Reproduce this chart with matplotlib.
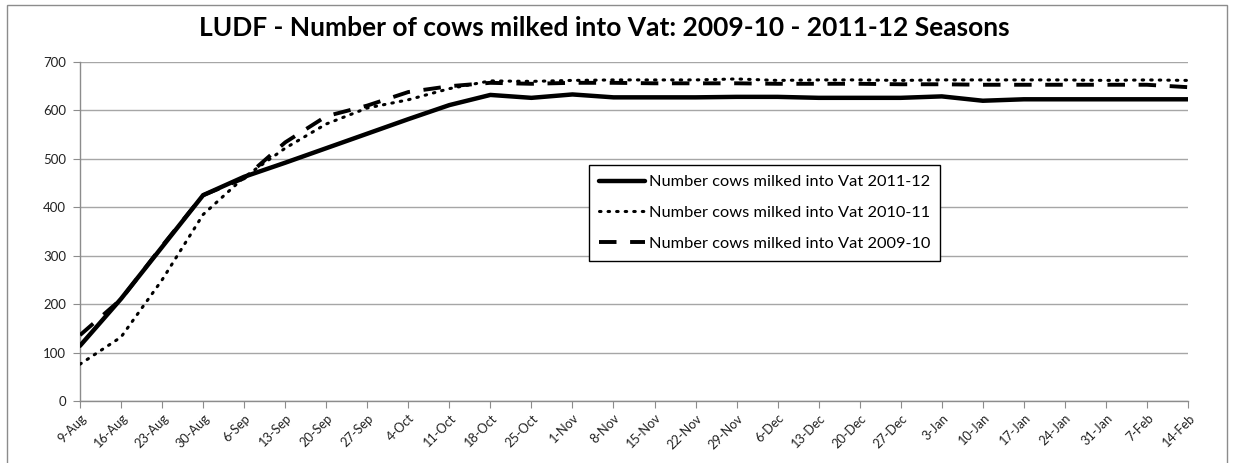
import matplotlib
matplotlib.use("Agg")
import matplotlib.pyplot as plt
from matplotlib.patches import Rectangle

plt.rcParams['font.family'] = ['Lato', 'DejaVu Sans']

weeks = ["9-Aug", "16-Aug", "23-Aug", "30-Aug", "6-Sep", "13-Sep", "20-Sep", "27-Sep",
         "4-Oct", "11-Oct", "18-Oct", "25-Oct", "1-Nov", "8-Nov", "15-Nov", "22-Nov",
         "29-Nov", "6-Dec", "13-Dec", "20-Dec", "27-Dec", "3-Jan", "10-Jan", "17-Jan",
         "24-Jan", "31-Jan", "7-Feb", "14-Feb"]

cows_2011_12 = [114, 211, 318, 425, 463, 492, 522, 552, 582, 611, 632, 626, 633, 627,
                627, 627, 628, 628, 626, 626, 626, 629, 620, 623, 623, 623, 623, 623]
cows_2010_11 = [76, 132, 250, 385, 462, 522, 572, 605, 622, 645, 661, 660, 662, 663,
                663, 663, 665, 662, 663, 663, 662, 663, 663, 663, 663, 662, 663, 662]
cows_2009_10 = [136, 210, 320, 425, 460, 534, 588, 610, 638, 650, 657, 655, 657, 657,
                656, 656, 656, 655, 655, 655, 654, 654, 653, 653, 653, 653, 653, 648]

labels = ["Number cows milked into Vat 2011-12",
          "Number cows milked into Vat 2010-11",
          "Number cows milked into Vat 2009-10"]
title = "LUDF - Number of cows milked into Vat: 2009-10 - 2011-12 Seasons"

fig = plt.figure(figsize=(12.34, 4.63), dpi=100)
ax = fig.add_axes([80 / 1234, 1 - 401 / 463, (1188 - 80) / 1234, (401 - 62) / 463])

x = list(range(len(weeks)))
l1, = ax.plot(x, cows_2011_12, color="black", lw=3.2, solid_capstyle="round",
              solid_joinstyle="round", label=labels[0], zorder=3)
l2, = ax.plot(x, cows_2010_11, color="black", lw=2.2, linestyle=(0, (0.5, 2.3)),
              dash_capstyle="round", label=labels[1], zorder=3)
l3, = ax.plot(x, cows_2009_10, color="black", lw=2.8, linestyle=(0, (4.5, 3.5)),
              label=labels[2], zorder=3)

ax.set_xlim(0, len(weeks) - 1)
ax.set_ylim(0, 700)
ax.set_yticks(range(0, 701, 100))
ax.set_xticks(x)
ax.set_xticklabels(weeks, rotation=45, ha="right", rotation_mode="anchor",
                   fontsize=9.2, color="#222222")
ax.tick_params(axis="x", length=5, color="#8c8c8c", pad=3)
ax.tick_params(axis="y", length=5, color="#8c8c8c", labelsize=9.5, labelcolor="#222222", pad=5)
ax.grid(axis="y", color="#a6a6a6", lw=1.0)
ax.set_axisbelow(True)
for s in ["top", "right"]:
    ax.spines[s].set_visible(False)
for s in ["left", "bottom"]:
    ax.spines[s].set_color("#8c8c8c")
    ax.spines[s].set_linewidth(1.0)

fig.text(0.49, 1 - 28 / 463, title, ha="center", va="center", fontsize=19,
         fontweight="bold", color="black")

leg = ax.legend(handles=[l1, l2, l3], loc="upper left",
                bbox_to_anchor=((589 - 80) / 1108, (401 - 165) / 339),
                fontsize=11.8, frameon=True, fancybox=False, edgecolor="black",
                framealpha=1, handlelength=2.8, handletextpad=0.25,
                borderpad=0.6, labelspacing=1.0, borderaxespad=0)
leg.get_frame().set_linewidth(1.0)

fig.add_artist(Rectangle((7 / 1234, -0.01), (1227 - 7) / 1234, 1 - 5 / 463 + 0.01,
                         transform=fig.transFigure, fill=False,
                         edgecolor="#8c8c8c", lw=1.0))

fig.savefig("out.png", dpi=100)
